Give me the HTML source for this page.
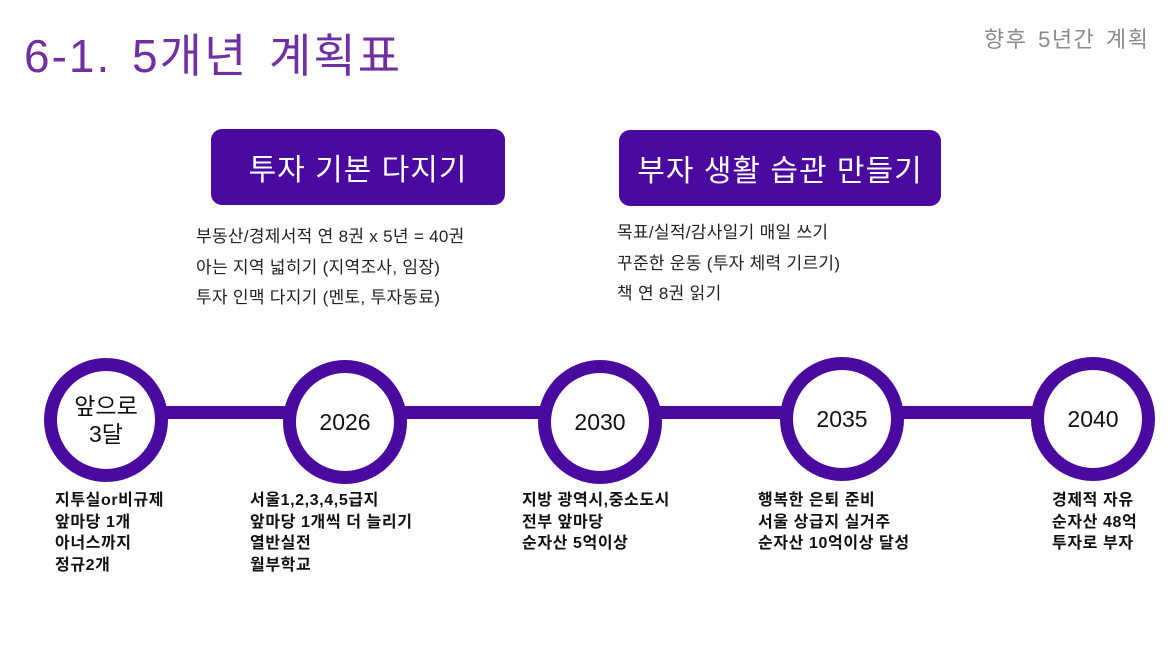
<!DOCTYPE html>
<html><head><meta charset="utf-8"><style>
body{margin:0;width:1173px;height:660px;background:#fff;position:relative;overflow:hidden;font-family:"Liberation Sans","Noto Sans CJK KR",sans-serif}
.a{position:absolute;white-space:nowrap}
.box{position:absolute;background:#4a0aa0;border-radius:11px;color:#fff;font-size:30px;display:flex;align-items:center;justify-content:center;letter-spacing:1px}
.c{position:absolute;width:98px;height:98px;border:13px solid #4a0aa0;border-radius:50%;background:#fff;display:flex;align-items:center;justify-content:center;text-align:center;font-size:23px;color:#111;line-height:28px}
.l{position:absolute;font-size:17px;color:#222;line-height:30.5px;white-space:nowrap;letter-spacing:0.3px}
.b{position:absolute;font-size:16px;font-weight:bold;color:#111;line-height:21.5px;white-space:nowrap;letter-spacing:0.6px}
</style></head><body>
<div class="a" style="left:24px;top:20px;font-size:46px;color:#7030a0;word-spacing:6px;letter-spacing:2px">6-1. 5개년 계획표</div>
<div class="a" style="left:984px;top:22px;font-size:22px;color:#8a8a8a;letter-spacing:1.5px;word-spacing:3px">향후 5년간 계획</div>
<div class="box" style="left:211px;top:129px;width:294px;height:76px">투자 기본 다지기</div>
<div class="box" style="left:619px;top:130px;width:322px;height:76px">부자 생활 습관 만들기</div>
<div class="l" style="left:196px;top:222px">부동산/경제서적 연 8권 x 5년 = 40권<br>아는 지역 넓히기 (지역조사, 임장)<br>투자 인맥 다지기 (멘토, 투자동료)</div>
<div class="l" style="left:617px;top:218px">목표/실적/감사일기 매일 쓰기<br>꾸준한 운동 (투자 체력 기르기)<br>책 연 8권 읽기</div>
<div class="a" style="left:150px;top:406px;width:900px;height:13px;background:#4a0aa0"></div>
<div class="c" style="left:44px;top:358px">앞으로<br>3달</div>
<div class="c" style="left:283px;top:360px">2026</div>
<div class="c" style="left:538px;top:360px">2030</div>
<div class="c" style="left:780px;top:357px">2035</div>
<div class="c" style="left:1031px;top:357px">2040</div>
<div class="b" style="left:55px;top:490px">지투실or비규제<br>앞마당 1개<br>아너스까지<br>정규2개</div>
<div class="b" style="left:250px;top:490px">서울1,2,3,4,5급지<br>앞마당 1개씩 더 늘리기<br>열반실전<br>월부학교</div>
<div class="b" style="left:522px;top:490px">지방 광역시,중소도시<br>전부 앞마당<br>순자산 5억이상</div>
<div class="b" style="left:758px;top:490px">행복한 은퇴 준비<br>서울 상급지 실거주<br>순자산 10억이상 달성</div>
<div class="b" style="left:1052px;top:490px">경제적 자유<br>순자산 48억<br>투자로 부자</div>
</body></html>
